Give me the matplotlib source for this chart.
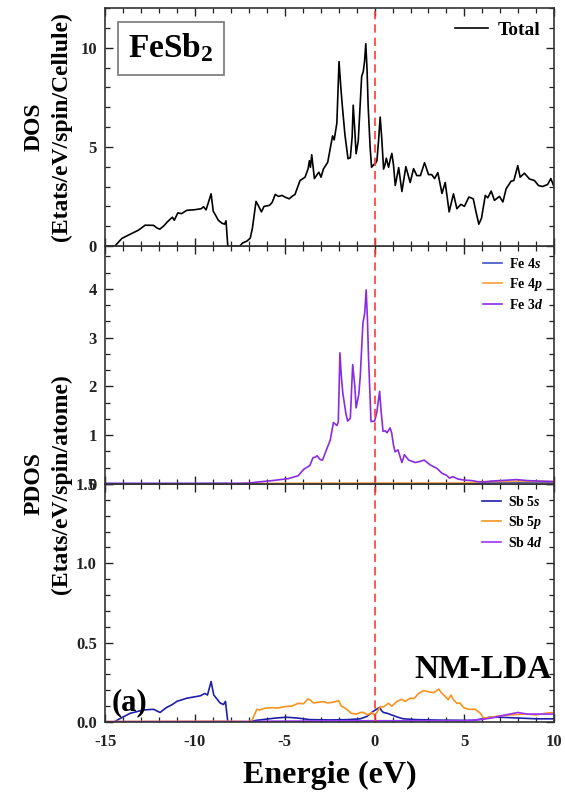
import matplotlib
matplotlib.use("Agg")
import matplotlib.pyplot as plt
from matplotlib.ticker import MultipleLocator, FormatStrFormatter

plt.rcParams["font.family"] = ["Liberation Serif", "DejaVu Serif"]
plt.rcParams["font.weight"] = "bold"
plt.rcParams["axes.unicode_minus"] = False
plt.rcParams["mathtext.fontset"] = "custom"
plt.rcParams["mathtext.rm"] = "Liberation Serif:bold"
plt.rcParams["mathtext.it"] = "Liberation Serif:bold:italic"
plt.rcParams["mathtext.bf"] = "Liberation Serif:bold"

# ---------------- data ----------------
# Total DOS (states/eV/spin/cell)
total_E = [-15.0, -14.45, -14.3, -14.07, -13.7, -13.14, -12.77, -12.3, -12.1, -11.95,
           -11.75, -11.55, -11.38, -11.25, -11.15, -10.95, -10.75, -10.45, -10.0, -9.65,
           -9.52, -9.38, -9.1, -8.98, -8.85, -8.7, -8.5, -8.35, -8.27, -8.17,
           -7.5, -7.35, -7.1, -6.92, -6.8, -6.6, -6.45, -6.3, -6.15, -5.85,
           -5.7, -5.53, -5.35, -5.15, -4.95, -4.75, -4.6, -4.43, -4.15, -3.87,
           -3.7, -3.63, -3.57, -3.5, -3.35, -3.2, -3.1, -2.98, -2.85, -2.61,
           -2.43, -2.34, -2.25, -2.1, -1.98, -1.88, -1.79, -1.65, -1.48, -1.35,
           -1.25, -1.19, -1.1, -1.03, -0.91, -0.82, -0.72, -0.63, -0.56, -0.49,
           -0.42, -0.36, -0.25, -0.17, -0.05, 0.05, 0.13, 0.22, 0.31, 0.4,
           0.5, 0.58, 0.65, 0.78, 0.88, 0.96, 1.05, 1.15, 1.34, 1.52,
           1.74, 1.98, 2.17, 2.35, 2.55, 2.78, 3.0, 3.18, 3.34, 3.52,
           3.75, 3.93, 4.15, 4.39, 4.58, 4.8, 5.0, 5.25, 5.49, 5.65,
           5.8, 5.95, 6.16, 6.3, 6.49, 6.67, 6.95, 7.14, 7.32, 7.6,
           7.75, 7.97, 8.1, 8.34, 8.62, 8.9, 9.12, 9.35, 9.63, 9.81,
           9.96, 10.0]
total_dos = [0.0, 0.0, 0.15, 0.38, 0.55, 0.8, 1.05, 1.04, 0.9, 0.85,
             1.0, 1.2, 1.35, 1.45, 1.3, 1.67, 1.63, 1.8, 1.83, 1.88,
             1.98, 1.82, 2.63, 1.75, 1.55, 1.3, 1.15, 1.1, 1.27, 0.0,
             0.0, 0.15, 0.25, 0.4, 0.9, 2.25, 2.0, 1.72, 2.0, 2.05,
             2.2, 2.6, 2.5, 2.55, 2.45, 2.38, 2.5, 2.6, 3.3, 3.47,
             3.9, 4.3, 3.97, 4.6, 3.4, 3.6, 3.72, 3.47, 3.88, 4.22,
             5.1, 5.55, 5.35, 6.2, 9.3, 8.0, 7.0, 5.6, 4.4, 4.45,
             5.5, 7.1, 5.8, 4.65, 5.3, 6.8, 8.55, 8.8, 9.3, 10.2,
             8.9, 7.1, 5.0, 3.97, 4.1, 4.17, 4.3, 5.3, 6.5, 5.4,
             3.88, 4.1, 4.43, 3.97, 4.4, 4.67, 4.1, 3.05, 3.95, 2.75,
             4.0, 3.2, 3.9, 3.55, 3.55, 4.2, 3.6, 3.6, 3.4, 3.7,
             2.65, 3.2, 1.72, 2.63, 1.88, 2.1, 2.0, 2.47, 2.38, 1.7,
             1.1, 1.4, 2.55, 2.43, 2.77, 2.3, 2.5, 2.22, 2.88, 3.27,
             3.3, 4.05, 3.47, 3.67, 3.38, 3.3, 3.05, 3.0, 3.1, 3.4,
             3.05, 3.0]

# Fe partial DOS (states/eV/spin/atom)
fe3d_E = [-15.0, -10.0, -7.5, -7.0, -6.5, -5.7, -4.8, -4.25, -3.95, -3.6,
          -3.43, -3.3, -3.2, -3.03, -2.9, -2.67, -2.47, -2.29, -2.1, -2.02,
          -1.93, -1.85, -1.77, -1.6, -1.5, -1.35, -1.22, -1.1, -1.03, -0.88,
          -0.8, -0.65, -0.55, -0.47, -0.4, -0.34, -0.2, 0.0, 0.12, 0.28,
          0.36, 0.47, 0.6, 0.69, 0.86, 0.95, 1.05, 1.14, 1.3, 1.52,
          1.66, 1.9, 2.26, 2.5, 2.76, 3.1, 3.47, 3.75, 4.0, 4.17,
          4.35, 4.66, 5.0, 5.4, 5.7, 6.1, 6.5, 7.0, 7.9, 8.5,
          9.2, 10.0]
fe3d = [0.01, 0.01, 0.015, 0.02, 0.04, 0.07, 0.11, 0.17, 0.3, 0.38,
        0.54, 0.55, 0.58, 0.5, 0.49, 0.71, 0.9, 1.26, 1.2, 1.27,
        2.69, 2.2, 1.87, 1.45, 1.29, 1.35, 2.45, 2.0, 1.56, 1.84,
        2.2, 3.3, 3.5, 3.98, 3.4, 2.62, 1.28, 1.29, 1.46, 1.9,
        1.5, 1.08, 1.09, 1.05, 1.15, 1.05, 0.8, 0.66, 0.7, 0.44,
        0.6, 0.49, 0.44, 0.46, 0.49, 0.39, 0.32, 0.22, 0.18, 0.12,
        0.15, 0.1, 0.08, 0.07, 0.05, 0.04, 0.06, 0.07, 0.09, 0.07,
        0.06, 0.05]
fe4s_E = [-15.0, -8.2, -8.1, -7.0, 0.0, 5.0, 6.0, 7.0, 8.0, 10.0]
fe4s = [0.01, 0.01, 0.0, 0.005, 0.005, 0.01, 0.02, 0.03, 0.03, 0.03]
fe4p_E = [-15.0, -7.0, -5.0, 0.0, 4.5, 5.5, 6.0, 7.0, 8.0, 10.0]
fe4p = [0.003, 0.005, 0.015, 0.02, 0.02, 0.03, 0.05, 0.05, 0.055, 0.05]

# Sb partial DOS (states/eV/spin/atom)
sb5s_E = [-15.0, -14.5, -14.2, -13.6, -12.86, -12.3, -11.94, -11.6, -11.29, -11.0,
          -10.45, -9.7, -9.45, -9.3, -9.1, -8.95, -8.6, -8.41, -8.3, -8.17,
          -7.0, -6.6, -6.1, -5.5, -4.9, -4.3, -3.6, -2.5, -1.5, -0.8,
          -0.43, -0.1, 0.27, 0.4, 0.5, 0.7, 0.96, 1.3, 1.6, 2.3,
          3.5, 5.5, 6.0, 6.4, 7.0, 8.0, 9.0, 10.0]
sb5s = [0.0, 0.0, 0.02, 0.055, 0.076, 0.08, 0.06, 0.09, 0.108, 0.13,
        0.15, 0.165, 0.18, 0.17, 0.255, 0.17, 0.12, 0.11, 0.13, 0.0,
        0.0, 0.01, 0.017, 0.025, 0.03, 0.025, 0.015, 0.013, 0.015, 0.02,
        0.035, 0.065, 0.092, 0.07, 0.06, 0.055, 0.044, 0.03, 0.02, 0.015,
        0.012, 0.01, 0.02, 0.03, 0.03, 0.025, 0.02, 0.02]
sb5p_E = [-15.0, -8.2, -7.0, -6.83, -6.55, -6.4, -6.1, -5.75, -5.4, -4.98,
          -4.6, -4.25, -3.95, -3.72, -3.6, -3.4, -3.1, -2.85, -2.6, -2.3,
          -2.0, -1.85, -1.68, -1.55, -1.3, -1.0, -0.8, -0.6, -0.4, -0.15,
          0.0, 0.15, 0.31, 0.5, 0.77, 0.96, 1.24, 1.52, 1.7, 1.99,
          2.2, 2.45, 2.73, 3.0, 3.3, 3.57, 3.75, 3.9, 4.1, 4.25,
          4.39, 4.58, 4.75, 4.96, 5.24, 5.6, 5.9, 6.06, 6.4, 6.9,
          7.6, 8.35, 9.0, 9.5, 10.0]
sb5p = [0.003, 0.005, 0.003, 0.01, 0.08, 0.075, 0.087, 0.09, 0.088, 0.097,
        0.1, 0.118, 0.115, 0.145, 0.14, 0.12, 0.125, 0.128, 0.12, 0.125,
        0.135, 0.1, 0.09, 0.08, 0.055, 0.05, 0.06, 0.06, 0.045, 0.06,
        0.04, 0.065, 0.097, 0.095, 0.118, 0.1, 0.13, 0.143, 0.13, 0.15,
        0.148, 0.18, 0.198, 0.19, 0.185, 0.207, 0.18, 0.165, 0.14, 0.17,
        0.14, 0.118, 0.12, 0.09, 0.08, 0.08, 0.054, 0.025, 0.028, 0.038,
        0.045, 0.05, 0.045, 0.055, 0.06]
sb4d_E = [-15.0, -7.0, -6.0, 0.0, 5.0, 5.9, 6.5, 7.3, 7.97, 8.5, 9.3, 10.0]
sb4d = [0.002, 0.003, 0.005, 0.008, 0.008, 0.015, 0.025, 0.045, 0.06, 0.05, 0.05, 0.05]

fe_labels = [r"Fe 4$\mathit{s}$", r"Fe 4$\mathit{p}$", r"Fe 3$\mathit{d}$"]
sb_labels = [r"Sb 5$\mathit{s}$", r"Sb 5$\mathit{p}$", r"Sb 4$\mathit{d}$"]
x_ticks = [-15, -10, -5, 0, 5, 10]

# ---------------- figure ----------------
fig = plt.figure(figsize=(5.65, 8.0), dpi=100)
L, W, H, B = 0.186, 0.795, 0.2975, 0.0975
ax3 = fig.add_axes([L, B, W, H])
ax2 = fig.add_axes([L, B + H, W, H], sharex=ax3)
ax1 = fig.add_axes([L, B + 2 * H, W, H], sharex=ax3)

lw = 1.2
ax1.plot(total_E, total_dos, color="black", lw=lw, label="Total")

ax2.plot(fe4s_E, fe4s, color="#3f51c8", lw=lw, label=fe_labels[0])
ax2.plot(fe4p_E, fe4p, color="#f7a13a", lw=lw, label=fe_labels[1])
ax2.plot(fe3d_E, fe3d, color="#8a2be2", lw=lw, label=fe_labels[2])

ax3.plot(sb5s_E, sb5s, color="#1f1fa8", lw=lw, label=sb_labels[0])
ax3.plot(sb5p_E, sb5p, color="#f7931e", lw=lw, label=sb_labels[1])
ax3.plot(sb4d_E, sb4d, color="#9933ff", lw=lw, label=sb_labels[2])

ax1.set_ylim(0, 12)
ax2.set_ylim(0, 4.88)
ax3.set_ylim(0, 1.5)
ax3.set_xlim(-15, 10)

ax1.yaxis.set_major_locator(MultipleLocator(5))
ax1.yaxis.set_minor_locator(MultipleLocator(1))
ax2.yaxis.set_major_locator(MultipleLocator(1))
ax2.yaxis.set_minor_locator(MultipleLocator(1 / 3))
ax3.yaxis.set_major_locator(MultipleLocator(0.5))
ax3.yaxis.set_minor_locator(MultipleLocator(0.1))
ax3.set_xticks(x_ticks)
ax3.xaxis.set_minor_locator(MultipleLocator(1))
ax3.yaxis.set_major_formatter(FormatStrFormatter("%.1f"))

for ax in (ax1, ax2, ax3):
    ax.axvline(0, color="#ff3b3b", lw=1.2, ls=(0, (5, 3)))
    ax.tick_params(which="both", direction="in", top=True, right=True,
                   labelsize=12, colors="#222222")
    ax.tick_params(axis="y", which="major", pad=6)
    ax.tick_params(axis="x", which="major", pad=9)
    ax.tick_params(which="major", length=6, width=1.0)
    ax.tick_params(which="minor", length=3.5, width=0.9)
    for s in ax.spines.values():
        s.set_linewidth(1.2)
        s.set_color("#333333")
    for lab in ax.get_yticklabels() + ax.get_xticklabels():
        lab.set_fontweight("bold")
for ax in (ax1, ax2):
    ax.tick_params(labelbottom=False)

ax1.legend(loc="upper right", frameon=False, handlelength=1.7, handletextpad=0.5,
           prop={"size": 14, "weight": "bold"}, borderaxespad=0.3)
ax2.legend(loc="upper right", frameon=False, handlelength=1.4, handletextpad=0.5,
           labelspacing=0.35, prop={"size": 10, "weight": "bold"}, borderaxespad=0.4)
ax3.legend(loc="upper right", frameon=False, handlelength=1.4, handletextpad=0.5,
           labelspacing=0.35, prop={"size": 10, "weight": "bold"}, borderaxespad=0.4)

ax1.text(0.052, 0.9, r"FeSb$_\mathrm{2}$", transform=ax1.transAxes, fontsize=24,
         fontweight="bold", va="top", ha="left",
         bbox=dict(boxstyle="square,pad=0.3", fc="white", ec="#777777", lw=1.2))
ax3.text(0.995, 0.155, "NM-LDA", transform=ax3.transAxes, fontsize=24,
         fontweight="bold", ha="right", va="bottom")
ax3.text(0.015, 0.02, "(a)", transform=ax3.transAxes, fontsize=22,
         fontweight="bold", ha="left", va="bottom")

fig.text(0.085, B + 2.5 * H, "DOS\n(Etats/eV/spin/Cellule)", rotation=90,
         ha="center", va="center", fontsize=17, fontweight="bold",
         multialignment="center", linespacing=1.35)
fig.text(0.085, B + H, "PDOS\n(Etats/eV/spin/atome)", rotation=90,
         ha="center", va="center", fontsize=17, fontweight="bold",
         multialignment="center", linespacing=1.35)
fig.text(L + W / 2, 0.031, "Energie (eV)", ha="center", va="center",
         fontsize=23, fontweight="bold")

fig.savefig("out.png", dpi=100, facecolor="white")
